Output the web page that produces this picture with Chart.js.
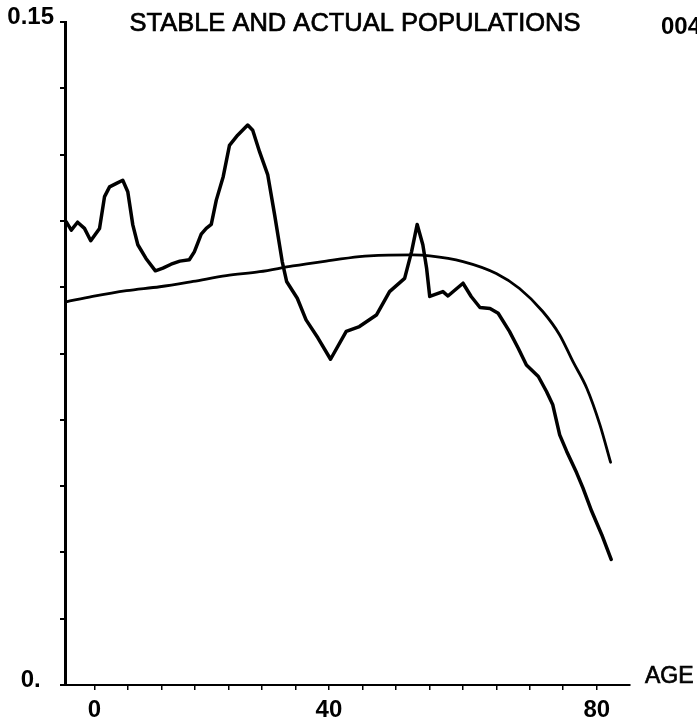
<!DOCTYPE html>
<html>
<head>
<meta charset="utf-8">
<script src="https://cdn.jsdelivr.net/npm/chart.js@4.4.1/dist/chart.umd.min.js"></script>
<style>
  html, body { margin: 0; padding: 0; background: #fff; }
  #wrap { width: 697px; height: 727px; }
</style>
</head>
<body>
<div id="wrap"><canvas id="popChart"></canvas></div>
<script>
// Actual population (jagged line)
const actualAges = [-4.5, -3.7, -2.7, -1.6, -0.6, 0.8, 1.6, 2.4, 3.5, 4.5, 5.3, 6.1, 6.9, 8.2, 9.7,
  10.9, 12.2, 13.6, 15.1, 15.9, 17.0, 17.8, 18.6, 19.4, 20.5, 21.5, 22.8, 24.4, 25.2, 26.3,
  27.6, 28.7, 29.9, 30.6, 32.3, 33.7, 35.6, 37.6, 40.1, 42.2, 44.9, 47.0, 49.4, 50.5, 51.4,
  52.3, 52.9, 53.4, 55.5, 56.3, 58.7, 60.0, 61.4, 63.0, 64.3, 66.1, 67.5, 68.8, 70.7, 72.0,
  73.0, 74.1, 75.2, 76.8, 77.8, 79.2, 80.8, 82.3];
const actualValues = [0.1048, 0.1029, 0.1047, 0.1033, 0.1005, 0.1033, 0.1105, 0.1127, 0.1135, 0.1142,
  0.1116, 0.1041, 0.0996, 0.0965, 0.0937, 0.0943, 0.0952, 0.0959, 0.0962, 0.0980, 0.1020, 0.1033,
  0.1042, 0.1097, 0.1150, 0.1221, 0.1244, 0.1267, 0.1255, 0.1206, 0.1154, 0.1063, 0.0958, 0.0913,
  0.0875, 0.0826, 0.0785, 0.0737, 0.0800, 0.0811, 0.0837, 0.0890, 0.0920, 0.0980, 0.1042, 0.0996,
  0.0943, 0.0879, 0.0890, 0.0880, 0.0909, 0.0879, 0.0854, 0.0852, 0.0841, 0.0800, 0.0762, 0.0724,
  0.0698, 0.0664, 0.0634, 0.0566, 0.0529, 0.0480, 0.0446, 0.0393, 0.0340, 0.0284];

// Stable population (smooth curve)
const stableAges = [-4.5, -0.3, 5.1, 10.4, 15.7, 21.0, 26.3, 31.6, 36.9, 42.2, 43.8, 50.7, 53.4,
  58.7, 64.0, 67.7, 71.4, 74.1, 76.2, 78.4, 80.5, 82.2];
const stableValues = [0.0867, 0.0879, 0.0892, 0.0901, 0.0913, 0.0926, 0.0935, 0.0948, 0.0959, 0.0969,
  0.0971, 0.0973, 0.0971, 0.0958, 0.0931, 0.0897, 0.0845, 0.0792, 0.0732, 0.0672, 0.0589, 0.0504];

// Axis ticks as printed: 16 marks between 0 and 80, three of them labelled
const xTickAges = Array.from({ length: 16 }, (_, i) => i * 80 / 15);
const xTickLabels = ['0', '', '', '', '', '', '', '40', '', '', '', '', '', '', '', '80'];
const yTopLabel = '0.15';
const yBottomLabel = '0.';

const toPoints = (xs, ys) => xs.map((x, i) => ({ x: x, y: ys[i] }));

const FONT = '"Liberation Sans", Arial, sans-serif';

// Title, corner code and axis name
const extraText = {
  id: 'extraText',
  afterDraw(chart) {
    const ctx = chart.ctx;
    ctx.save();
    ctx.fillStyle = '#000';
    ctx.strokeStyle = '#000';
    ctx.lineWidth = 0.7;
    ctx.textBaseline = 'middle';
    ctx.font = '25.5px ' + FONT;
    ctx.textAlign = 'center';
    ctx.fillText('STABLE AND ACTUAL POPULATIONS', 355, 24);
    ctx.strokeText('STABLE AND ACTUAL POPULATIONS', 355, 24);
    ctx.textAlign = 'left';
    ctx.font = 'bold 24px ' + FONT;
    ctx.fillText('004', 661, 27);
    ctx.font = '23px ' + FONT;
    ctx.fillText('AGE', 645, 677);
    ctx.strokeText('AGE', 645, 677);
    ctx.restore();
  }
};

new Chart(document.getElementById('popChart'), {
  type: 'line',
  data: {
    datasets: [
      {
        label: 'Actual',
        data: toPoints(actualAges, actualValues),
        borderColor: '#000',
        borderWidth: 3.5,
        tension: 0,
        pointRadius: 0,
        borderJoinStyle: 'round',
        borderCapStyle: 'round'
      },
      {
        label: 'Stable',
        data: toPoints(stableAges, stableValues),
        borderColor: '#000',
        borderWidth: 2.8,
        tension: 0.4,
        cubicInterpolationMode: 'monotone',
        pointRadius: 0,
        borderCapStyle: 'round'
      }
    ]
  },
  options: {
    responsive: true,
    maintainAspectRatio: false,
    animation: false,
    devicePixelRatio: 1,
    layout: { padding: { left: 0, right: 67, top: 22, bottom: 0 } },
    plugins: {
      legend: { display: false },
      tooltip: { enabled: false }
    },
    scales: {
      x: {
        type: 'linear',
        min: -4.7,
        max: 85.3,
        border: { display: true, color: '#000', width: 2 },
        grid: { display: true, drawOnChartArea: false, drawTicks: true, tickLength: 5, color: '#000', lineWidth: 1.5 },
        afterBuildTicks: (s) => { s.ticks = xTickAges.map(v => ({ value: v })); },
        afterFit: (s) => { s.height = 42; },
        ticks: {
          color: '#000',
          padding: 6,
          maxRotation: 0,
          autoSkip: false,
          font: { family: FONT, size: 24, weight: 'bold' },
          callback: (v, i) => xTickLabels[i]
        }
      },
      y: {
        min: 0,
        max: 0.15,
        border: { display: true, color: '#000', width: 3 },
        grid: { display: true, drawOnChartArea: false, drawTicks: true, tickLength: 5, color: '#000', lineWidth: 2 },
        afterFit: (s) => { s.width = 65; },
        ticks: {
          stepSize: 0.015,
          color: '#000',
          padding: 6,
          labelOffset: -5,
          crossAlign: 'center',
          autoSkip: false,
          font: { family: FONT, size: 24, weight: 'bold' },
          callback: (v, i, ticks) => i === 0 ? yBottomLabel : (i === ticks.length - 1 ? yTopLabel : '')
        }
      }
    }
  },
  plugins: [extraText]
});
</script>
</body>
</html>
